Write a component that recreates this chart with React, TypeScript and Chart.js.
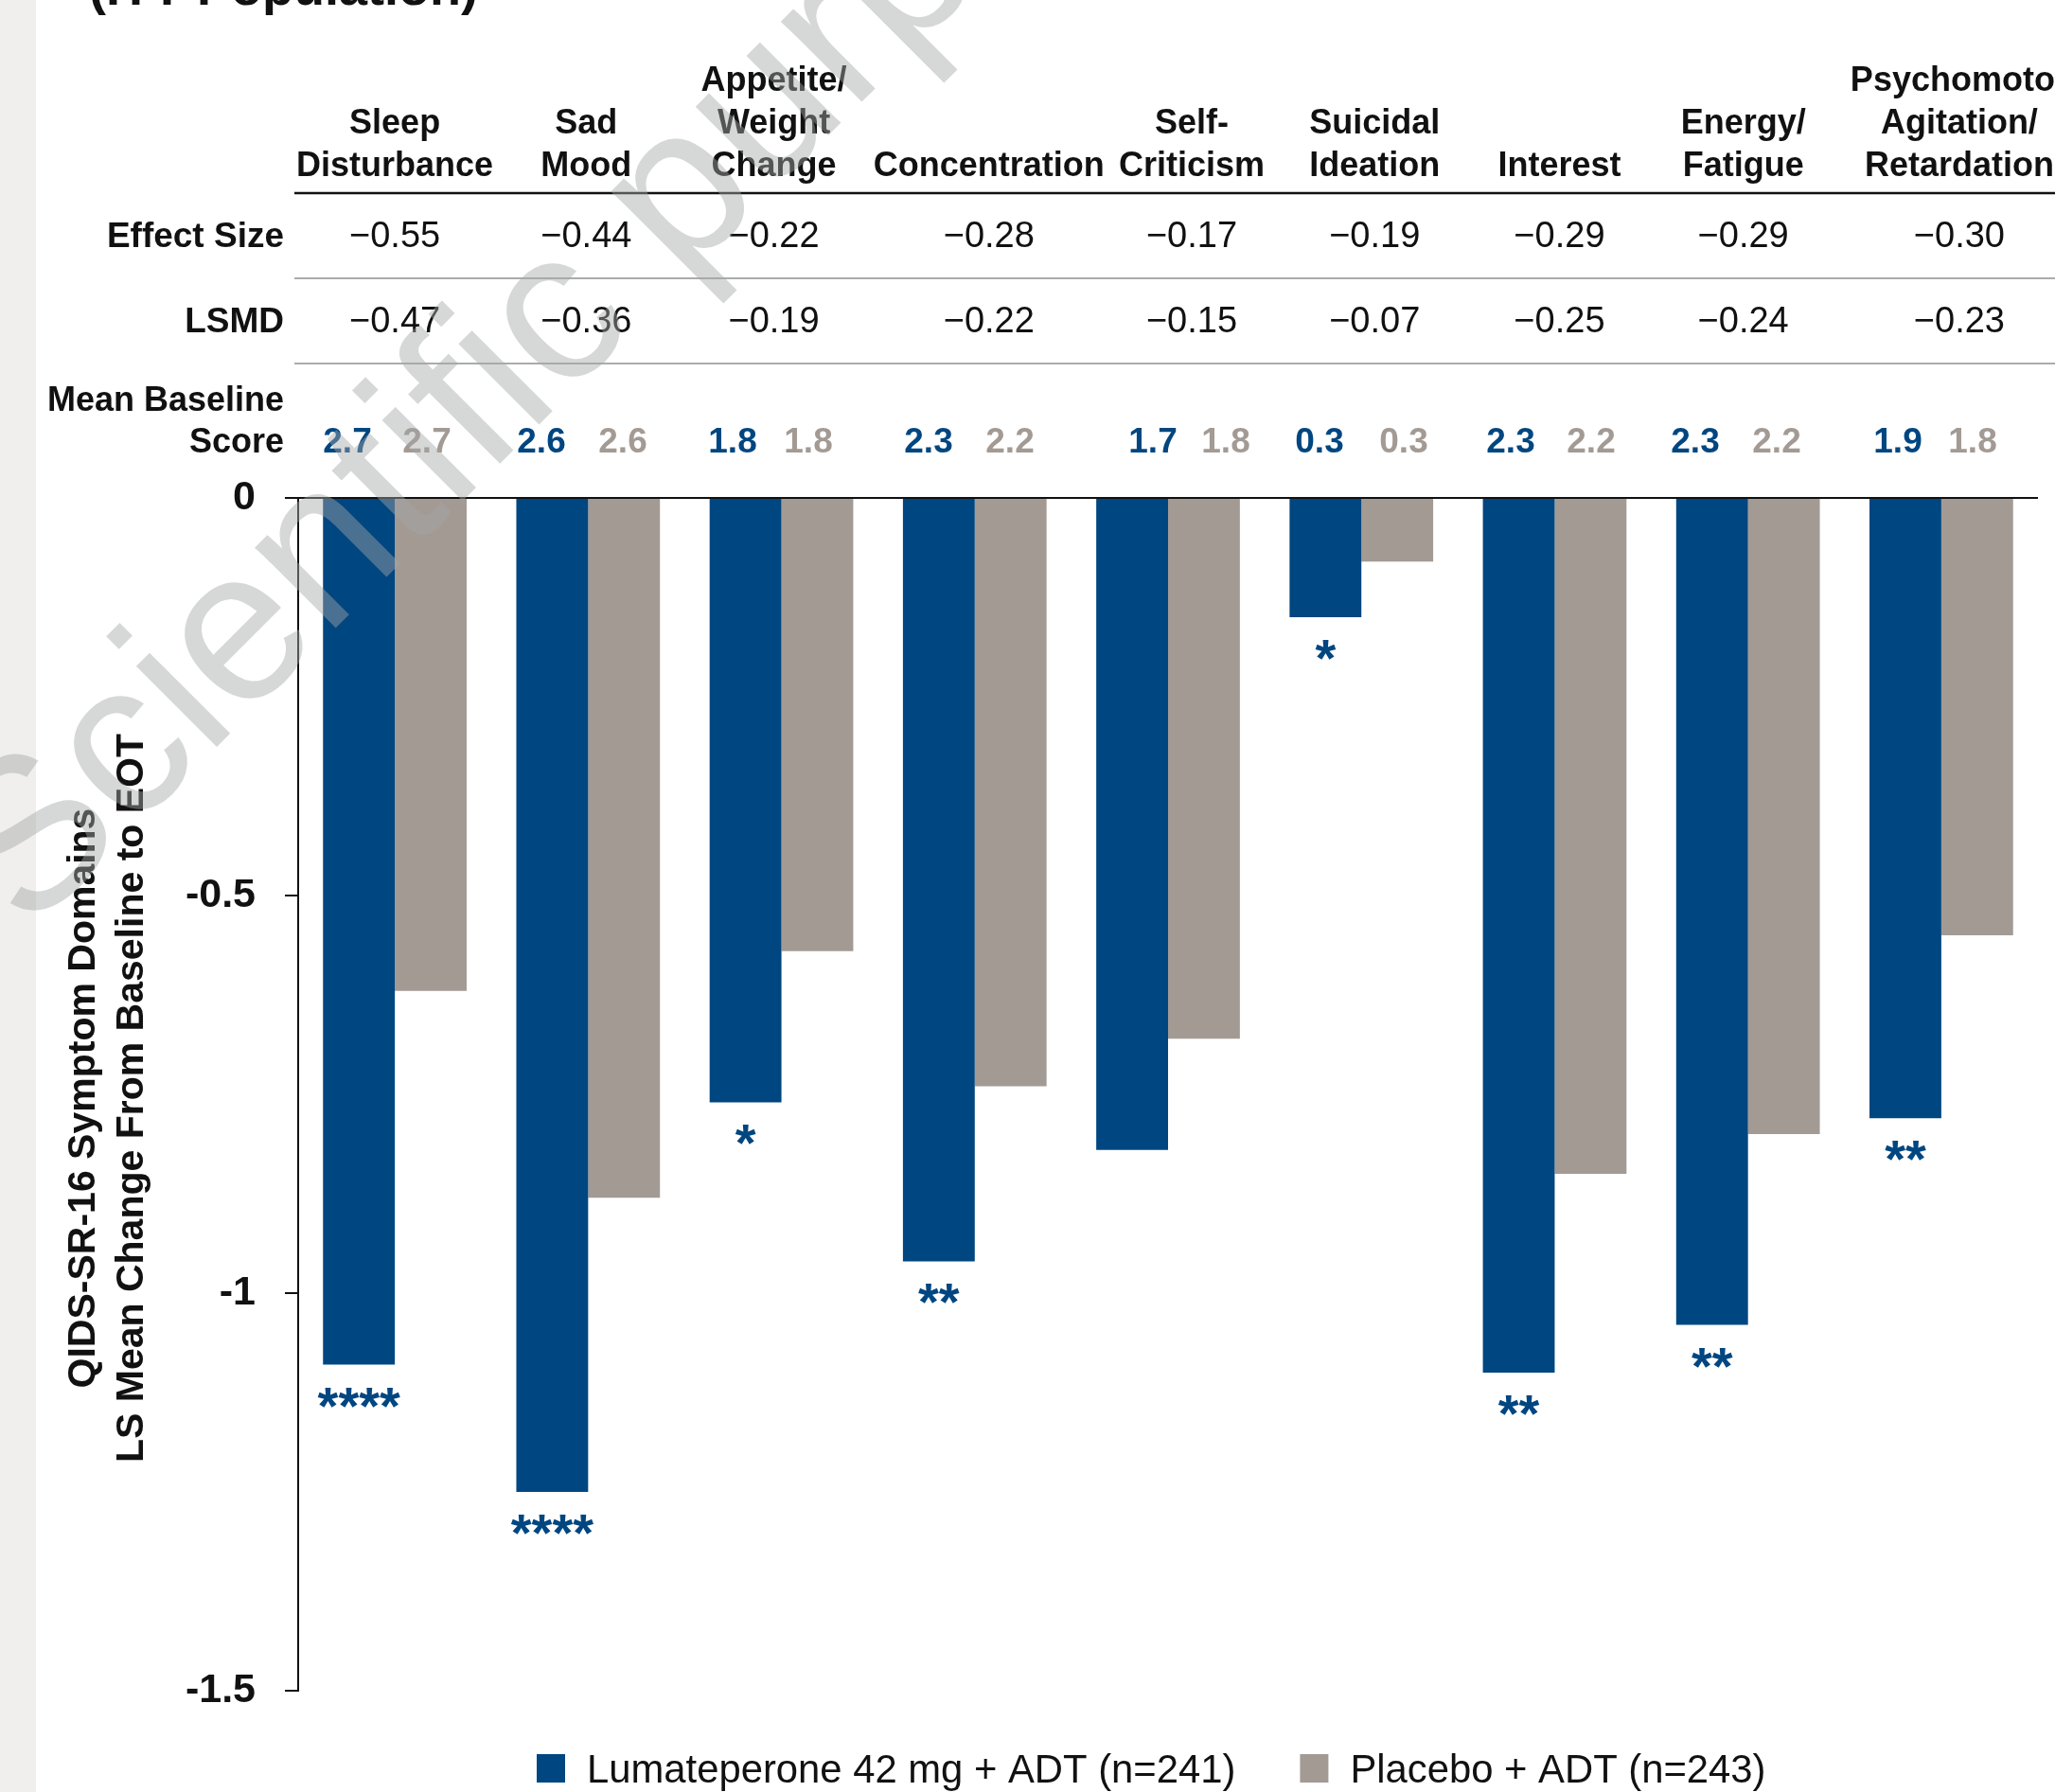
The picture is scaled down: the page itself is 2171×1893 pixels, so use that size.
import React, { useEffect, useRef } from 'react';
import { Chart, registerables } from 'chart.js';

Chart.register(...registerables);

// ---------- DATA ----------
const categories = [
  'Sleep Disturbance',
  'Sad Mood',
  'Appetite/Weight Change',
  'Concentration',
  'Self-Criticism',
  'Suicidal Ideation',
  'Interest',
  'Energy/Fatigue',
  'Psychomotor Agitation/Retardation',
];
const headerLines = [
  ['Sleep', 'Disturbance'],
  ['Sad', 'Mood'],
  ['Appetite/', 'Weight', 'Change'],
  ['Concentration'],
  ['Self-', 'Criticism'],
  ['Suicidal', 'Ideation'],
  ['Interest'],
  ['Energy/', 'Fatigue'],
  ['Psychomotor', 'Agitation/', 'Retardation'],
];
const lumateperone = [-1.09, -1.25, -0.76, -0.96, -0.82, -0.15, -1.1, -1.04, -0.78];
const placebo = [-0.62, -0.88, -0.57, -0.74, -0.68, -0.08, -0.85, -0.8, -0.55];
const significance = ['****', '****', '*', '**', '', '*', '**', '**', '**'];
const effectSize = [-0.55, -0.44, -0.22, -0.28, -0.17, -0.19, -0.29, -0.29, -0.3];
const lsmd = [-0.47, -0.36, -0.19, -0.22, -0.15, -0.07, -0.25, -0.24, -0.23];
const baselineLuma = [2.7, 2.6, 1.8, 2.3, 1.7, 0.3, 2.3, 2.3, 1.9];
const baselinePlacebo = [2.7, 2.6, 1.8, 2.2, 1.8, 0.3, 2.2, 2.2, 1.8];
const seriesLabels = ['Lumateperone 42 mg + ADT (n=241)', 'Placebo + ADT (n=243)'];
const yTickMin = -1.5;
const yTickMax = 0;
const yTickStep = 0.5;
const yTitleLines = ['QIDS-SR-16 Symptom Domains', 'LS Mean Change From Baseline to EOT'];

// ---------- STYLE / LAYOUT ----------
const W = 2171;
const H = 1893;
const BLUE = '#004680';
const GRAY = '#a39a94';
const INK = '#111111';
const FONT = '"Liberation Sans", Arial, sans-serif';
// table column centre offsets relative to bar group centres
const colOffset = [0, -2, -8, 15, 25, 14, 5, -5, 19];
// baseline-score text centres (absolute px)
const scoreBlueX = [367, 572, 774, 981, 1218, 1394, 1596, 1791, 2005];
const scoreGrayX = [451, 658, 854, 1067, 1295, 1483, 1681, 1877, 2084];

const fmt = (v: number) => (v < 0 ? '\u2212' : '') + Math.abs(v).toFixed(2);

const decorPlugin = {
  id: 'decor',
  beforeDraw(chart: any) {
    const ctx = chart.ctx;
    ctx.save();
    ctx.fillStyle = '#ffffff';
    ctx.fillRect(0, 0, W, H);
    ctx.fillStyle = '#f0efed';
    ctx.fillRect(0, 0, 38, H);
    // clipped title
    ctx.fillStyle = INK;
    ctx.font = `bold 54px ${FONT}`;
    ctx.textAlign = 'left';
    ctx.textBaseline = 'alphabetic';
    ctx.fillText('(ITT Population)', 94, 5);
    ctx.restore();
  },
  afterDatasetsDraw(chart: any) {
    const ctx = chart.ctx;
    const meta = chart.getDatasetMeta(0);
    ctx.save();
    ctx.fillStyle = BLUE;
    ctx.font = `bold 56px ${FONT}`;
    ctx.textAlign = 'center';
    ctx.textBaseline = 'alphabetic';
    meta.data.forEach((bar: any, i: number) => {
      if (significance[i]) ctx.fillText(significance[i], bar.x, bar.y + 62);
    });
    ctx.restore();
  },
  afterDraw(chart: any) {
    const ctx = chart.ctx;
    const xs = chart.scales.x;
    const centers = categories.map((_, i) => xs.getPixelForValue(i) + colOffset[i]);
    ctx.save();

    // table lines
    ctx.strokeStyle = INK;
    ctx.lineWidth = 2.5;
    ctx.beginPath();
    ctx.moveTo(311, 204);
    ctx.lineTo(W, 204);
    ctx.stroke();
    ctx.strokeStyle = '#ababab';
    ctx.lineWidth = 2;
    [294, 384].forEach((y) => {
      ctx.beginPath();
      ctx.moveTo(311, y);
      ctx.lineTo(W, y);
      ctx.stroke();
    });

    // headers
    ctx.fillStyle = INK;
    ctx.font = `bold 36px ${FONT}`;
    ctx.textAlign = 'center';
    ctx.textBaseline = 'alphabetic';
    headerLines.forEach((lines, i) => {
      const n = lines.length;
      lines.forEach((t, j) => {
        ctx.fillText(t, centers[i], 186 - (n - 1 - j) * 45);
      });
    });

    // row labels
    ctx.textAlign = 'right';
    ctx.font = `bold 37px ${FONT}`;
    ctx.fillText('Effect Size', 300, 261);
    ctx.fillText('LSMD', 300, 351);
    ctx.font = `bold 36px ${FONT}`;
    ctx.fillText('Mean Baseline', 300, 434);
    ctx.fillText('Score', 300, 478);

    // numeric rows
    ctx.textAlign = 'center';
    ctx.font = `38px ${FONT}`;
    effectSize.forEach((v, i) => ctx.fillText(fmt(v), centers[i], 261));
    lsmd.forEach((v, i) => ctx.fillText(fmt(v), centers[i], 351));

    ctx.font = `bold 37px ${FONT}`;
    baselineLuma.forEach((v, i) => {
      ctx.fillStyle = BLUE;
      ctx.fillText(v.toFixed(1), scoreBlueX[i], 478);
    });
    baselinePlacebo.forEach((v, i) => {
      ctx.fillStyle = GRAY;
      ctx.fillText(v.toFixed(1), scoreGrayX[i], 478);
    });

    // y axis title
    ctx.fillStyle = INK;
    ctx.font = `bold 41px ${FONT}`;
    ctx.textAlign = 'center';
    ctx.textBaseline = 'alphabetic';
    const cy = (chart.chartArea.top + chart.chartArea.bottom) / 2 + 4;
    [100, 151].forEach((x, k) => {
      ctx.save();
      ctx.translate(x, cy);
      ctx.rotate(-Math.PI / 2);
      ctx.fillText(yTitleLines[k], 0, 0);
      ctx.restore();
    });

    // legend
    ctx.font = `41.8px ${FONT}`;
    ctx.textAlign = 'left';
    let lx = 567;
    const colors = [BLUE, GRAY];
    seriesLabels.forEach((lab, k) => {
      ctx.fillStyle = colors[k];
      ctx.fillRect(lx, 1853, 30, 30);
      ctx.fillStyle = INK;
      ctx.fillText(lab, lx + 53, 1883);
      lx = lx + 53 + ctx.measureText(lab).width + 68;
    });

    // watermark
    ctx.save();
    ctx.translate(30, 988);
    ctx.rotate(-Math.PI / 4);
    ctx.fillStyle = 'rgba(163,166,166,0.45)';
    ctx.font = `228px ${FONT}`;
    ctx.textAlign = 'left';
    ctx.fillText('Scientific purposes only', 0, 0);
    ctx.restore();

    ctx.restore();
  },
};

export default function App() {
  const ref = useRef<HTMLCanvasElement | null>(null);
  useEffect(() => {
    if (!ref.current) return;
    const chart = new Chart(ref.current, {
      type: 'bar',
      data: {
        labels: categories,
        datasets: [
          {
            label: seriesLabels[0],
            data: lumateperone,
            backgroundColor: BLUE,
            categoryPercentage: 0.743,
            barPercentage: 1.0,
          },
          {
            label: seriesLabels[1],
            data: placebo,
            backgroundColor: GRAY,
            categoryPercentage: 0.743,
            barPercentage: 1.0,
          },
        ],
      },
      options: {
        responsive: false,
        animation: false,
        devicePixelRatio: 1,
        layout: { padding: { left: 0, top: 526, right: 18, bottom: 107 } },
        plugins: {
          legend: { display: false },
          tooltip: { enabled: false },
          title: { display: false },
        },
        scales: {
          x: { display: false },
          y: {
            min: yTickMin,
            max: yTickMax,
            afterFit: (scale: any) => {
              scale.width = 315;
            },
            ticks: {
              stepSize: yTickStep,
              padding: 31,
              color: INK,
              font: { family: FONT, size: 43, weight: 'bold' },
              callback: (v: any) => (Number(v) === 0 ? '0' : String(Number(v))),
            },
            grid: {
              drawOnChartArea: true,
              drawTicks: true,
              tickLength: 14,
              tickColor: INK,
              lineWidth: 2,
              color: (c: any) => (c.tick && c.tick.value === 0 ? INK : 'rgba(0,0,0,0)'),
            },
            border: { display: true, color: INK, width: 2 },
          },
        },
      },
      plugins: [decorPlugin],
    });
    return () => chart.destroy();
  }, []);
  return (
    <div style={{ position: 'fixed', left: 0, top: 0, width: W, height: H }}>
      <canvas ref={ref} width={W} height={H} />
    </div>
  );
}
